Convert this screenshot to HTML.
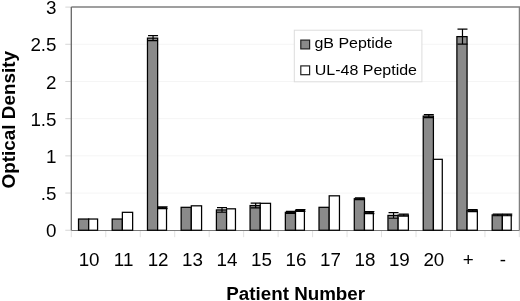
<!DOCTYPE html>
<html><head><meta charset="utf-8"><title>Chart</title>
<style>html,body{margin:0;padding:0;background:#fff;overflow:hidden}</style></head>
<body>
<svg width="520" height="301" viewBox="0 0 520 301" style="display:block">
<rect width="520" height="301" fill="#fff"/>
<line x1="71.3" x2="519.5" y1="193.06" y2="193.06" stroke="#f5f5f5" stroke-width="1"/>
<line x1="71.3" x2="519.5" y1="155.87" y2="155.87" stroke="#f5f5f5" stroke-width="1"/>
<line x1="71.3" x2="519.5" y1="118.67" y2="118.67" stroke="#f5f5f5" stroke-width="1"/>
<line x1="71.3" x2="519.5" y1="81.48" y2="81.48" stroke="#f5f5f5" stroke-width="1"/>
<line x1="71.3" x2="519.5" y1="44.29" y2="44.29" stroke="#f5f5f5" stroke-width="1"/>
<line x1="65.3" x2="71.3" y1="230.25" y2="230.25" stroke="#d6d6d6" stroke-width="1"/>
<line x1="65.3" x2="71.3" y1="193.06" y2="193.06" stroke="#d6d6d6" stroke-width="1"/>
<line x1="65.3" x2="71.3" y1="155.87" y2="155.87" stroke="#d6d6d6" stroke-width="1"/>
<line x1="65.3" x2="71.3" y1="118.67" y2="118.67" stroke="#d6d6d6" stroke-width="1"/>
<line x1="65.3" x2="71.3" y1="81.48" y2="81.48" stroke="#d6d6d6" stroke-width="1"/>
<line x1="65.3" x2="71.3" y1="44.29" y2="44.29" stroke="#d6d6d6" stroke-width="1"/>
<line x1="65.3" x2="71.3" y1="7.10" y2="7.10" stroke="#d6d6d6" stroke-width="1"/>
<line x1="71.30" x2="71.30" y1="230.25" y2="237.2" stroke="#e2e2e2" stroke-width="1"/>
<line x1="105.77" x2="105.77" y1="230.25" y2="237.2" stroke="#e2e2e2" stroke-width="1"/>
<line x1="140.24" x2="140.24" y1="230.25" y2="237.2" stroke="#e2e2e2" stroke-width="1"/>
<line x1="174.71" x2="174.71" y1="230.25" y2="237.2" stroke="#e2e2e2" stroke-width="1"/>
<line x1="209.18" x2="209.18" y1="230.25" y2="237.2" stroke="#e2e2e2" stroke-width="1"/>
<line x1="243.65" x2="243.65" y1="230.25" y2="237.2" stroke="#e2e2e2" stroke-width="1"/>
<line x1="278.12" x2="278.12" y1="230.25" y2="237.2" stroke="#e2e2e2" stroke-width="1"/>
<line x1="312.59" x2="312.59" y1="230.25" y2="237.2" stroke="#e2e2e2" stroke-width="1"/>
<line x1="347.06" x2="347.06" y1="230.25" y2="237.2" stroke="#e2e2e2" stroke-width="1"/>
<line x1="381.53" x2="381.53" y1="230.25" y2="237.2" stroke="#e2e2e2" stroke-width="1"/>
<line x1="416.00" x2="416.00" y1="230.25" y2="237.2" stroke="#e2e2e2" stroke-width="1"/>
<line x1="450.47" x2="450.47" y1="230.25" y2="237.2" stroke="#e2e2e2" stroke-width="1"/>
<line x1="484.94" x2="484.94" y1="230.25" y2="237.2" stroke="#e2e2e2" stroke-width="1"/>
<line x1="519.30" x2="519.30" y1="230.25" y2="237.2" stroke="#e2e2e2" stroke-width="1"/>
<path d="M71.3 7.1 H519.5 V230.25" fill="none" stroke="#808080" stroke-width="1.5"/>
<path d="M71.3 7.1 V230.25" fill="none" stroke="#666" stroke-width="1.3"/>
<path d="M71.3 230.55 H519.5" fill="none" stroke="#777" stroke-width="1.1"/>
<rect x="78.52" y="219.03" width="10.17" height="11.22" fill="#8a8a8a" stroke="#000" stroke-width="1.25"/>
<rect x="88.70" y="219.03" width="8.88" height="11.22" fill="#fff" stroke="#000" stroke-width="1.25"/>
<rect x="112.19" y="219.03" width="10.17" height="11.22" fill="#8a8a8a" stroke="#000" stroke-width="1.25"/>
<rect x="122.37" y="212.32" width="10.27" height="17.93" fill="#fff" stroke="#000" stroke-width="1.25"/>
<rect x="147.47" y="38.12" width="10.18" height="192.12" fill="#8a8a8a" stroke="#000" stroke-width="1.25"/>
<rect x="157.64" y="207.72" width="8.88" height="22.53" fill="#fff" stroke="#000" stroke-width="1.25"/>
<path d="M153.05 35.62 V40.62 M148.05 35.62 h10 M148.05 40.62 h10" fill="none" stroke="#000" stroke-width="1.2"/>
<path d="M162.58 206.92 V208.53 M157.58 206.92 h10 M157.58 208.53 h10" fill="none" stroke="#000" stroke-width="1.2"/>
<rect x="181.13" y="207.32" width="10.18" height="22.93" fill="#8a8a8a" stroke="#000" stroke-width="1.25"/>
<rect x="191.31" y="205.82" width="10.27" height="24.43" fill="#fff" stroke="#000" stroke-width="1.25"/>
<rect x="216.41" y="209.93" width="10.18" height="20.32" fill="#8a8a8a" stroke="#000" stroke-width="1.25"/>
<rect x="226.58" y="208.82" width="8.88" height="21.43" fill="#fff" stroke="#000" stroke-width="1.25"/>
<path d="M221.99 207.62 V212.23 M216.99 207.62 h10 M216.99 212.23 h10" fill="none" stroke="#000" stroke-width="1.2"/>
<rect x="250.07" y="205.53" width="10.18" height="24.72" fill="#8a8a8a" stroke="#000" stroke-width="1.25"/>
<rect x="260.25" y="203.32" width="10.27" height="26.93" fill="#fff" stroke="#000" stroke-width="1.25"/>
<path d="M255.66 203.22 V207.83 M250.66 203.22 h10 M250.66 207.83 h10" fill="none" stroke="#000" stroke-width="1.2"/>
<rect x="285.35" y="212.32" width="10.18" height="17.93" fill="#8a8a8a" stroke="#000" stroke-width="1.25"/>
<rect x="295.52" y="210.53" width="8.88" height="19.72" fill="#fff" stroke="#000" stroke-width="1.25"/>
<path d="M290.93 211.32 V213.32 M285.93 211.32 h10 M285.93 213.32 h10" fill="none" stroke="#000" stroke-width="1.2"/>
<path d="M300.46 209.72 V211.33 M295.46 209.72 h10 M295.46 211.33 h10" fill="none" stroke="#000" stroke-width="1.2"/>
<rect x="319.01" y="207.32" width="10.18" height="22.93" fill="#8a8a8a" stroke="#000" stroke-width="1.25"/>
<rect x="329.19" y="195.82" width="10.27" height="34.43" fill="#fff" stroke="#000" stroke-width="1.25"/>
<rect x="354.29" y="198.72" width="10.18" height="31.53" fill="#8a8a8a" stroke="#000" stroke-width="1.25"/>
<rect x="364.46" y="212.72" width="8.88" height="17.53" fill="#fff" stroke="#000" stroke-width="1.25"/>
<path d="M359.87 197.92 V199.53 M354.87 197.92 h10 M354.87 199.53 h10" fill="none" stroke="#000" stroke-width="1.2"/>
<path d="M369.40 211.72 V213.72 M364.40 211.72 h10 M364.40 213.72 h10" fill="none" stroke="#000" stroke-width="1.2"/>
<rect x="387.96" y="215.43" width="10.18" height="14.82" fill="#8a8a8a" stroke="#000" stroke-width="1.25"/>
<rect x="398.13" y="215.12" width="10.27" height="15.12" fill="#fff" stroke="#000" stroke-width="1.25"/>
<path d="M393.54 212.62 V218.23 M388.54 212.62 h10 M388.54 218.23 h10" fill="none" stroke="#000" stroke-width="1.2"/>
<path d="M403.77 214.12 V216.12 M398.77 214.12 h10 M398.77 216.12 h10" fill="none" stroke="#000" stroke-width="1.2"/>
<rect x="423.23" y="116.12" width="10.18" height="114.12" fill="#8a8a8a" stroke="#000" stroke-width="1.25"/>
<rect x="433.40" y="159.32" width="8.88" height="70.93" fill="#fff" stroke="#000" stroke-width="1.25"/>
<path d="M428.81 114.72 V117.53 M423.81 114.72 h10 M423.81 117.53 h10" fill="none" stroke="#000" stroke-width="1.2"/>
<rect x="456.89" y="36.62" width="10.18" height="193.62" fill="#8a8a8a" stroke="#000" stroke-width="1.25"/>
<rect x="467.07" y="210.72" width="10.27" height="19.53" fill="#fff" stroke="#000" stroke-width="1.25"/>
<path d="M462.48 29.12 V44.12 M457.48 29.12 h10 M457.48 44.12 h10" fill="none" stroke="#000" stroke-width="1.2"/>
<path d="M472.71 209.72 V211.72 M467.71 209.72 h10 M467.71 211.72 h10" fill="none" stroke="#000" stroke-width="1.2"/>
<rect x="492.17" y="214.93" width="10.18" height="15.32" fill="#8a8a8a" stroke="#000" stroke-width="1.25"/>
<rect x="502.34" y="214.93" width="8.88" height="15.32" fill="#fff" stroke="#000" stroke-width="1.25"/>
<path d="M497.75 214.12 V215.73 M492.75 214.12 h10 M492.75 215.73 h10" fill="none" stroke="#000" stroke-width="1.2"/>
<path d="M507.28 214.12 V215.73 M502.28 214.12 h10 M502.28 215.73 h10" fill="none" stroke="#000" stroke-width="1.2"/>
<rect x="294.3" y="30.2" width="127.6" height="51.6" fill="#fff" stroke="#dcdcdc" stroke-width="1"/>
<rect x="300.8" y="40.1" width="8.8" height="8.8" fill="#8a8a8a" stroke="#222" stroke-width="1.2"/>
<rect x="300.8" y="65.9" width="8.8" height="8.8" fill="#fff" stroke="#222" stroke-width="1.2"/>
<text transform="translate(314.4 48.3) scale(1 0.93)" font-family="Liberation Sans, Arial, Helvetica, sans-serif" font-size="16" fill="#000">gB Peptide</text>
<text transform="translate(314.8 74.5) scale(1 0.93)" font-family="Liberation Sans, Arial, Helvetica, sans-serif" font-size="16" fill="#000">UL-48 Peptide</text>
<text x="56.5" y="237.35" text-anchor="end" font-family="Liberation Sans, Arial, Helvetica, sans-serif" font-size="18.8" fill="#000">0</text>
<text x="56.5" y="200.16" text-anchor="end" font-family="Liberation Sans, Arial, Helvetica, sans-serif" font-size="18.8" fill="#000">.5</text>
<text x="56.5" y="162.97" text-anchor="end" font-family="Liberation Sans, Arial, Helvetica, sans-serif" font-size="18.8" fill="#000">1</text>
<text x="56.5" y="125.77" text-anchor="end" font-family="Liberation Sans, Arial, Helvetica, sans-serif" font-size="18.8" fill="#000">1.5</text>
<text x="56.5" y="88.58" text-anchor="end" font-family="Liberation Sans, Arial, Helvetica, sans-serif" font-size="18.8" fill="#000">2</text>
<text x="56.5" y="51.39" text-anchor="end" font-family="Liberation Sans, Arial, Helvetica, sans-serif" font-size="18.8" fill="#000">2.5</text>
<text x="56.5" y="14.20" text-anchor="end" font-family="Liberation Sans, Arial, Helvetica, sans-serif" font-size="18.8" fill="#000">3</text>
<text x="89.13" y="266" text-anchor="middle" font-family="Liberation Sans, Arial, Helvetica, sans-serif" font-size="18.8" fill="#000">10</text>
<text x="123.60" y="266" text-anchor="middle" font-family="Liberation Sans, Arial, Helvetica, sans-serif" font-size="18.8" fill="#000">11</text>
<text x="158.08" y="266" text-anchor="middle" font-family="Liberation Sans, Arial, Helvetica, sans-serif" font-size="18.8" fill="#000">12</text>
<text x="192.54" y="266" text-anchor="middle" font-family="Liberation Sans, Arial, Helvetica, sans-serif" font-size="18.8" fill="#000">13</text>
<text x="227.02" y="266" text-anchor="middle" font-family="Liberation Sans, Arial, Helvetica, sans-serif" font-size="18.8" fill="#000">14</text>
<text x="261.49" y="266" text-anchor="middle" font-family="Liberation Sans, Arial, Helvetica, sans-serif" font-size="18.8" fill="#000">15</text>
<text x="295.96" y="266" text-anchor="middle" font-family="Liberation Sans, Arial, Helvetica, sans-serif" font-size="18.8" fill="#000">16</text>
<text x="330.43" y="266" text-anchor="middle" font-family="Liberation Sans, Arial, Helvetica, sans-serif" font-size="18.8" fill="#000">17</text>
<text x="364.90" y="266" text-anchor="middle" font-family="Liberation Sans, Arial, Helvetica, sans-serif" font-size="18.8" fill="#000">18</text>
<text x="399.37" y="266" text-anchor="middle" font-family="Liberation Sans, Arial, Helvetica, sans-serif" font-size="18.8" fill="#000">19</text>
<text x="433.84" y="266" text-anchor="middle" font-family="Liberation Sans, Arial, Helvetica, sans-serif" font-size="18.8" fill="#000">20</text>
<text x="468.31" y="266" text-anchor="middle" font-family="Liberation Sans, Arial, Helvetica, sans-serif" font-size="18.8" fill="#000">+</text>
<text x="502.78" y="266" text-anchor="middle" font-family="Liberation Sans, Arial, Helvetica, sans-serif" font-size="18.8" fill="#000">-</text>
<text x="295.7" y="299.8" text-anchor="middle" font-family="Liberation Sans, Arial, Helvetica, sans-serif" font-size="18.8" font-weight="bold" fill="#000">Patient Number</text>
<text transform="translate(14.8 119.7) rotate(-90)" text-anchor="middle" font-family="Liberation Sans, Arial, Helvetica, sans-serif" font-size="18.9" font-weight="bold" fill="#000">Optical Density</text>
</svg>
</body></html>
